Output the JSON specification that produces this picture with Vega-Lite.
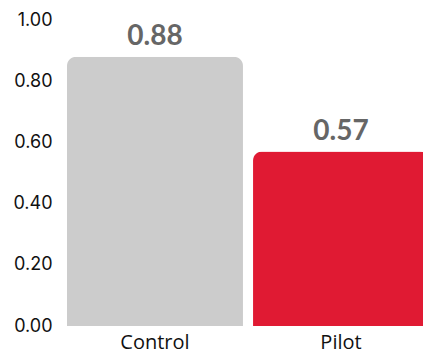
{
  "$schema": "https://vega.github.io/schema/vega-lite/v6.json",
  "autosize": {"type": "none"},
  "padding": {"left": 67, "top": 20, "right": 0, "bottom": 30},
  "width": 362,
  "height": 306,
  "background": "white",
  "config": {"view": {"stroke": null}},
  "data": {"values": [
    {"group": "Control", "value": 0.88},
    {"group": "Pilot", "value": 0.57}
  ]},
  "encoding": {
    "x": {"field": "group", "type": "nominal", "sort": null,
      "scale": {"paddingInner": 0.054, "paddingOuter": 0},
      "axis": {"title": null, "labelAngle": 0, "domain": false, "ticks": false, "labelFont": "Open Sans", "labelFontSize": 20, "labelColor": "#111", "labelPadding": 6}},
    "y": {"field": "value", "type": "quantitative",
      "scale": {"domain": [0, 1]},
      "axis": {"title": null, "format": ".2f", "values": [0, 0.2, 0.4, 0.6, 0.8, 1], "grid": false, "domain": false, "ticks": false, "labelFont": "Inter", "labelFontSize": 18, "labelColor": "#111", "labelPadding": 15}}
  },
  "layer": [
    {"mark": {"type": "bar", "cornerRadiusTopLeft": 9, "cornerRadiusTopRight": 9},
     "encoding": {"color": {"field": "group", "type": "nominal", "legend": null,
       "scale": {"domain": ["Control", "Pilot"], "range": ["#cccccc", "#e01a33"]}}}},
    {"mark": {"type": "text", "baseline": "alphabetic", "dy": -12, "font": "Lato", "fontWeight": "bold", "fontSize": 28, "color": "#666666"},
     "encoding": {"text": {"field": "value", "type": "quantitative", "format": ".2f"}}}
  ]
}
